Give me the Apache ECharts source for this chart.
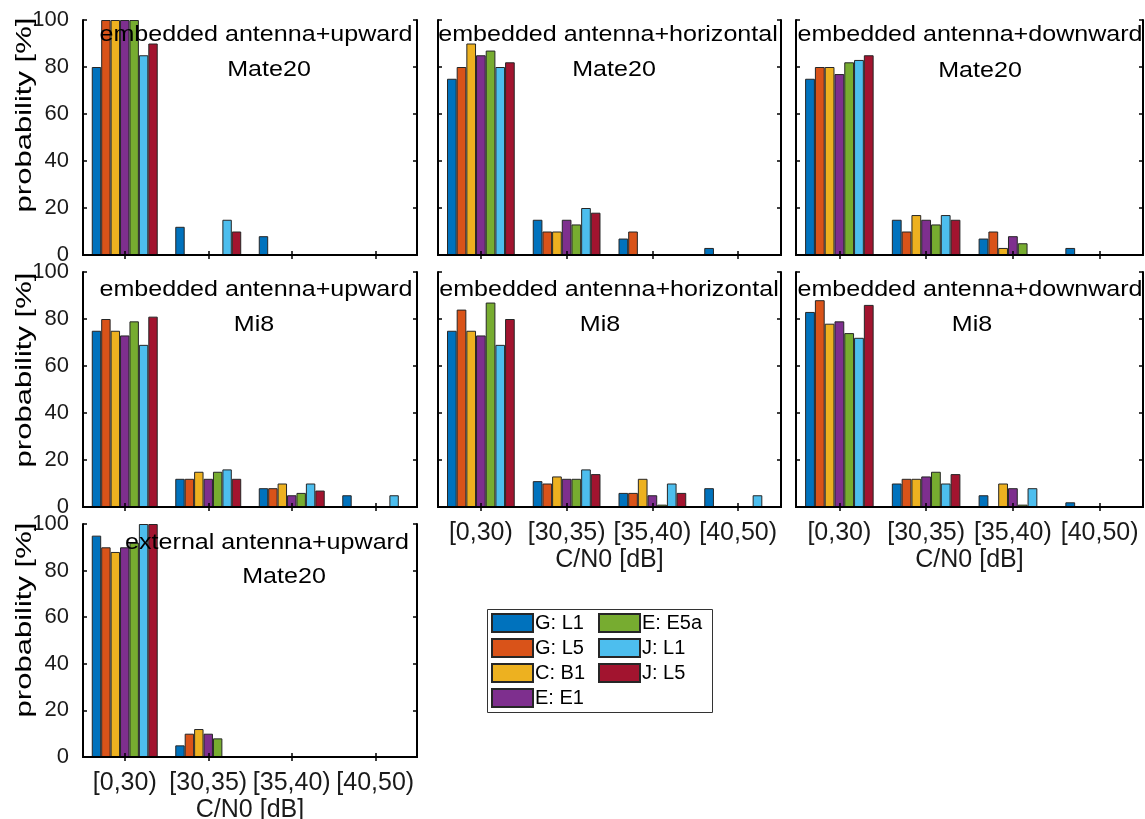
<!DOCTYPE html>
<html>
<head>
<meta charset="utf-8">
<title>C/N0 distribution</title>
<script src="https://cdn.jsdelivr.net/npm/echarts@6/dist/echarts.min.js"></script>
<style>
  html, body { margin: 0; padding: 0; background: #fff; }
  #chart { width: 1145px; height: 819px; }
</style>
</head>
<body>
<div id="chart"></div>
<script>
// C/N0 bins and signal names
const categories = ['[0,30)', '[30,35)', '[35,40)', '[40,50)'];
const signals = ['G: L1', 'G: L5', 'C: B1', 'E: E1', 'E: E5a', 'J: L1', 'J: L5'];
const yTicks = [0, 20, 40, 60, 80, 100];

// probability [%] per signal (rows) and C/N0 bin (columns)
const mate20Upward = [
  [80, 12, 8, 0],
  [100, 0, 0, 0],
  [100, 0, 0, 0],
  [100, 0, 0, 0],
  [100, 0, 0, 0],
  [85, 15, 0, 0],
  [90, 10, 0, 0]
];
const mate20Horizontal = [
  [75, 15, 7, 3],
  [80, 10, 10, 0],
  [90, 10, 0, 0],
  [85, 15, 0, 0],
  [87, 13, 0, 0],
  [80, 20, 0, 0],
  [82, 18, 0, 0]
];
const mate20Downward = [
  [75, 15, 7, 3],
  [80, 10, 10, 0],
  [80, 17, 3, 0],
  [77, 15, 8, 0],
  [82, 13, 5, 0],
  [83, 17, 0, 0],
  [85, 15, 0, 0]
];
const mi8Upward = [
  [75, 12, 8, 5],
  [80, 12, 8, 0],
  [75, 15, 10, 0],
  [73, 12, 5, 0],
  [79, 15, 6, 0],
  [69, 16, 10, 5],
  [81, 12, 7, 0]
];
const mi8Horizontal = [
  [75, 11, 6, 8],
  [84, 10, 6, 0],
  [75, 13, 12, 0],
  [73, 12, 5, 0],
  [87, 12, 1, 0],
  [69, 16, 10, 5],
  [80, 14, 6, 0]
];
const mi8Downward = [
  [83, 10, 5, 2],
  [88, 12, 0, 0],
  [78, 12, 10, 0],
  [79, 13, 8, 0],
  [74, 15, 1, 0],
  [72, 10, 8, 0],
  [86, 14, 0, 0]
];
const externalMate20Upward = [
  [95, 5, 0, 0],
  [90, 10, 0, 0],
  [88, 12, 0, 0],
  [90, 10, 0, 0],
  [92, 8, 0, 0],
  [100, 0, 0, 0],
  [100, 0, 0, 0]
];

const colors = ['#0072BD', '#D95319', '#EDB120', '#7E2F8E', '#77AC30', '#4DBEEE', '#A2142F'];
const FONT = '"Liberation Sans", Arial, Helvetica, sans-serif';
const INK = '#1a1a1a';

// panel layout: grid rect, caption positions, y-label centre, which axes carry labels
const panels = [
  { data: mate20Upward, caption: 'embedded antenna+upward', device: 'Mate20',
    grid: [83, 20, 334, 235], capPos: [256, 35], devPos: [269, 70], yNameY: 115, yLab: true, xLab: false },
  { data: mate20Horizontal, caption: 'embedded antenna+horizontal', device: 'Mate20',
    grid: [438, 20, 343, 235], capPos: [608, 35], devPos: [614, 70], yLab: false, xLab: false },
  { data: mate20Downward, caption: 'embedded antenna+downward', device: 'Mate20',
    grid: [796, 20, 347, 235], capPos: [970, 35], devPos: [980, 71], yLab: false, xLab: false },
  { data: mi8Upward, caption: 'embedded antenna+upward', device: 'Mi8',
    grid: [83, 272, 334, 235], capPos: [256, 290], devPos: [254, 325], yNameY: 370, yLab: true, xLab: false },
  { data: mi8Horizontal, caption: 'embedded antenna+horizontal', device: 'Mi8',
    grid: [438, 272, 343, 235], capPos: [609, 290], devPos: [600, 325], yLab: false, xLab: true },
  { data: mi8Downward, caption: 'embedded antenna+downward', device: 'Mi8',
    grid: [796, 272, 347, 235], capPos: [970, 290], devPos: [972, 325], yLab: false, xLab: true },
  { data: externalMate20Upward, caption: 'external antenna+upward', device: 'Mate20',
    grid: [83, 524, 334, 233], capPos: [267, 543], devPos: [284, 577], yNameY: 620, yLab: true, xLab: true }
];

const grids = [], xAxes = [], yAxes = [], series = [], texts = [];
const frame = { show: true, lineStyle: { color: '#000', width: 2 } };
const tick = { show: true, inside: true, length: 4, lineStyle: { color: '#000', width: 1.5 } };

function label(text, x, y, size, stretch, rotation) {
  return {
    type: 'text', x: x, y: y, z: 10, rotation: rotation || 0, scaleX: stretch, scaleY: 1,
    style: { text: text, fill: '#000', font: size + 'px ' + FONT, textAlign: 'center', textVerticalAlign: 'middle' }
  };
}

panels.forEach((p, i) => {
  const [left, top, width, height] = p.grid;
  grids.push({ left, top, width, height, containLabel: false, outerBoundsMode: 'none' });

  xAxes.push({
    gridIndex: i, type: 'category', data: categories, position: 'bottom', z: 5,
    axisLine: frame, axisTick: Object.assign({ alignWithLabel: true }, tick),
    axisLabel: { show: p.xLab, interval: 0, color: INK, fontFamily: FONT, fontSize: 25, margin: 14 },
    name: p.xLab ? 'C/N0 [dB]' : '', nameLocation: 'middle', nameGap: 41,
    nameTextStyle: { color: INK, fontFamily: FONT, fontSize: 25 }
  });
  xAxes.push({
    gridIndex: i, type: 'category', data: categories, position: 'top', z: 5,
    axisLine: frame, axisTick: Object.assign({ alignWithLabel: true }, tick),
    axisLabel: { show: false }
  });

  yAxes.push({
    gridIndex: i, type: 'value', min: yTicks[0], max: yTicks[yTicks.length - 1], interval: 20,
    position: 'left', z: 5, splitLine: { show: false },
    axisLine: frame, axisTick: tick,
    axisLabel: { show: p.yLab, color: INK, fontFamily: FONT, fontSize: 22, margin: 14 }
  });
  yAxes.push({
    gridIndex: i, type: 'value', min: yTicks[0], max: yTicks[yTicks.length - 1], interval: 20,
    position: 'right', z: 5, splitLine: { show: false },
    axisLine: frame, axisTick: tick, axisLabel: { show: false }
  });

  p.data.forEach((vals, k) => {
    series.push({
      type: 'bar', name: signals[k], xAxisIndex: 2 * i, yAxisIndex: 2 * i,
      data: vals, barGap: '0%', barCategoryGap: '21%',
      itemStyle: { color: colors[k], borderColor: '#262626', borderWidth: 1 },
      emphasis: { disabled: true }, animation: false
    });
  });

  texts.push(label(p.caption, p.capPos[0], p.capPos[1], 22, 1.14));
  texts.push(label(p.device, p.devPos[0], p.devPos[1], 22, 1.14));
  if (p.yLab) {
    texts.push(label('probability [%]', 25, p.yNameY, 22, 1.41, Math.PI / 2));
  }
});

// legend frame
texts.push({
  type: 'rect', shape: { x: 487.5, y: 609.5, width: 225, height: 103 }, z: 1,
  style: { fill: '#fff', stroke: '#333', lineWidth: 1 }
});

const legendBase = {
  orient: 'vertical', top: 613, padding: 0, icon: 'rect',
  itemWidth: 41, itemHeight: 18, itemGap: 5, selectedMode: false,
  textStyle: { color: '#000', fontFamily: FONT, fontSize: 20, padding: [0, 0, 0, -3], lineHeight: 18 }
};

const chart = echarts.init(document.getElementById('chart'), null, { renderer: 'canvas' });
chart.setOption({
  animation: false,
  backgroundColor: '#fff',
  grid: grids,
  xAxis: xAxes,
  yAxis: yAxes,
  series: series,
  legend: [
    Object.assign({}, legendBase, { left: 491, data: signals.slice(0, 4) }),
    Object.assign({}, legendBase, { left: 598, data: signals.slice(4) })
  ],
  graphic: texts
});
</script>
</body>
</html>
